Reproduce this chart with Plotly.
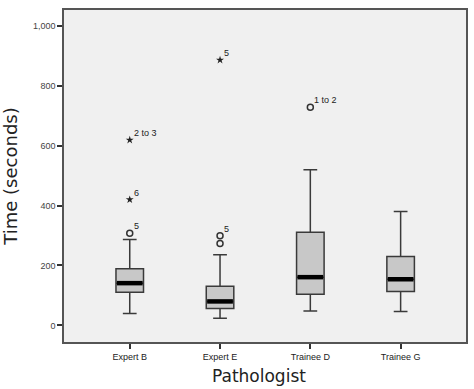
import plotly.graph_objects as go

categories = ["Expert B", "Expert E", "Trainee D", "Trainee G"]
q1 = [111, 56, 104, 113]
median = [141, 80, 161, 154]
q3 = [189, 131, 311, 230]
lower_whisker = [40, 24, 48, 46]
upper_whisker = [287, 236, 520, 380]

# outliers
circle_cat = ["Expert B", "Expert E", "Expert E", "Trainee D"]
circle_val = [308, 299, 273, 728]
circle_lab = ["5", "5", "", "1 to 2"]

star_cat = ["Expert B", "Expert B", "Expert E"]
star_val = [619, 420, 886]
star_lab = ["2 to 3", "6", "5"]

y_ticks = [0, 200, 400, 600, 800, 1000]

BOX_W = 0.305

fig = go.Figure()
for i, c in enumerate(categories):
    fig.add_trace(go.Box(
        x=[c], q1=[q1[i]], median=[median[i]], q3=[q3[i]],
        lowerfence=[lower_whisker[i]], upperfence=[upper_whisker[i]],
        boxpoints=False, width=BOX_W, whiskerwidth=0.5,
        fillcolor="#c8c8c8", line=dict(color="#3a3a3a", width=1.5),
        showlegend=False, hoverinfo="skip",
    ))
    fig.add_shape(type="line", xref="x", yref="y",
                  x0=i - BOX_W / 2 + 0.01, x1=i + BOX_W / 2 - 0.01,
                  y0=median[i], y1=median[i],
                  line=dict(color="black", width=4.5))

fig.add_trace(go.Scatter(
    x=circle_cat, y=circle_val, mode="markers",
    marker=dict(symbol="circle-open", size=6, color="#333", line=dict(width=1.5)),
    showlegend=False, hoverinfo="skip", cliponaxis=False,
))
fig.add_trace(go.Scatter(
    x=star_cat, y=star_val, mode="markers",
    marker=dict(symbol="star", size=6, color="#222", line=dict(width=0)),
    showlegend=False, hoverinfo="skip", cliponaxis=False,
))

for cats, vals, labs in ((circle_cat, circle_val, circle_lab), (star_cat, star_val, star_lab)):
    for c, v, t in zip(cats, vals, labs):
        if not t:
            continue
        fig.add_annotation(x=c, y=v, xref="x", yref="y", text=t, showarrow=False,
                           xanchor="left", yanchor="middle", xshift=2, yshift=7,
                           font=dict(size=9, color="#222", family="Liberation Sans"))

fig.add_annotation(x=(255 - 54) / 414, y=0, xref="paper", yref="paper", yshift=-22,
                   text="Pathologist", showarrow=False, xanchor="center", yanchor="top",
                   font=dict(size=17, family="DejaVu Sans", color="#222"))

fig.update_layout(
    width=474, height=389,
    margin=dict(l=54, r=6, t=10, b=47),
    paper_bgcolor="white", plot_bgcolor="#f0f0f0",
    font=dict(family="Liberation Sans", color="#222"),
    xaxis=dict(
        type="category", categoryorder="array", categoryarray=categories,
        range=[-0.728, 3.724], showgrid=False, zeroline=False,
        showline=True, mirror=True, linecolor="#555", linewidth=1.5,
        ticks="outside", ticklen=5, tickcolor="#333", tickwidth=1.5,
        tickfont=dict(size=9, color="#222"),
    ),
    yaxis=dict(
        range=[-55.5, 1053], showgrid=False, zeroline=False,
        tickvals=y_ticks, tickformat=",d",
        showline=True, mirror=True, linecolor="#555", linewidth=1.5,
        ticks="outside", ticklen=5, tickcolor="#333", tickwidth=1.5,
        tickfont=dict(size=9, color="#444"),
        title=dict(text="Time (seconds)", font=dict(size=18, family="DejaVu Sans", color="#222"), standoff=14),
    ),
)

fig.write_html("out.html")
